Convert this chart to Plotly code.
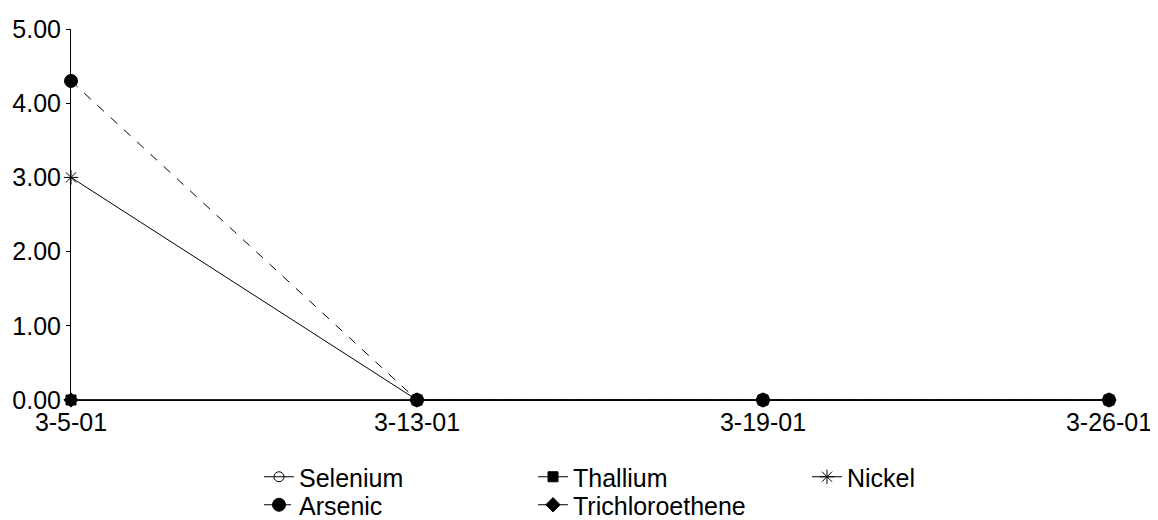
import plotly.graph_objects as go

dates = ["3-5-01", "3-13-01", "3-19-01", "3-26-01"]
selenium = [0, 0, 0, 0]
thallium = [0, 0, 0, 0]
nickel = [3.0, 0, 0, 0]
arsenic = [4.3, 0, 0, 0]
trichloroethene = [0, 0, 0, 0]

# (name, values, symbol, dash, marker size, legend row, legend rank); list order = drawing order
series = [
    ("Arsenic", arsenic, "circle", "dash", 13, "legend2", 1),
    ("Nickel", nickel, "asterisk-open", "solid", 12, "legend", 3),
    ("Selenium", selenium, "circle-open", "solid", 10, "legend", 1),
    ("Trichloroethene", trichloroethene, "diamond", "solid", 11, "legend2", 2),
    ("Thallium", thallium, "square", "solid", 10, "legend", 2),
]

fig = go.Figure()
for name, vals, sym, dash, size, leg, rank in series:
    fig.add_trace(go.Scatter(
        x=dates, y=vals, name=name, mode="lines+markers",
        line=dict(color="black", width=1, dash=dash),
        marker=dict(symbol=sym, size=size, color="black",
                    line=dict(color="black", width=1)),
        cliponaxis=False, legend=leg, legendrank=rank,
    ))

W, H = 1150, 512  # page body has an 8px margin
font = dict(family="Arial, Liberation Sans, sans-serif", size=25, color="black")
leg_common = dict(orientation="h", xref="container", yref="container",
                  x=251 / W, xanchor="left", yanchor="top",
                  entrywidth=229, entrywidthmode="pixels", traceorder="normal",
                  font=font, itemsizing="trace", tracegroupgap=0,
                  bgcolor="rgba(0,0,0,0)")
fig.update_layout(
    width=W, height=H,
    margin=dict(l=63, r=49, t=21, b=120),
    plot_bgcolor="white", paper_bgcolor="white",
    font=font,
    showlegend=True,
    legend=dict(leg_common, y=1 - 446 / H),
    legend2=dict(leg_common, y=1 - 474 / H),
)
fig.update_xaxes(type="category", range=[0, 3], showline=True, linecolor="black",
                 linewidth=1, showgrid=False, ticks="", ticklen=0, zeroline=False,
                 tickfont=font, automargin=False)
fig.update_yaxes(range=[0, 5], dtick=1, tickformat=".2f", showline=True,
                 linecolor="black", linewidth=1, showgrid=False, ticks="outside",
                 ticklen=4, tickcolor="black", zeroline=False, tickfont=font,
                 automargin=False)

fig.write_html("out.html")
